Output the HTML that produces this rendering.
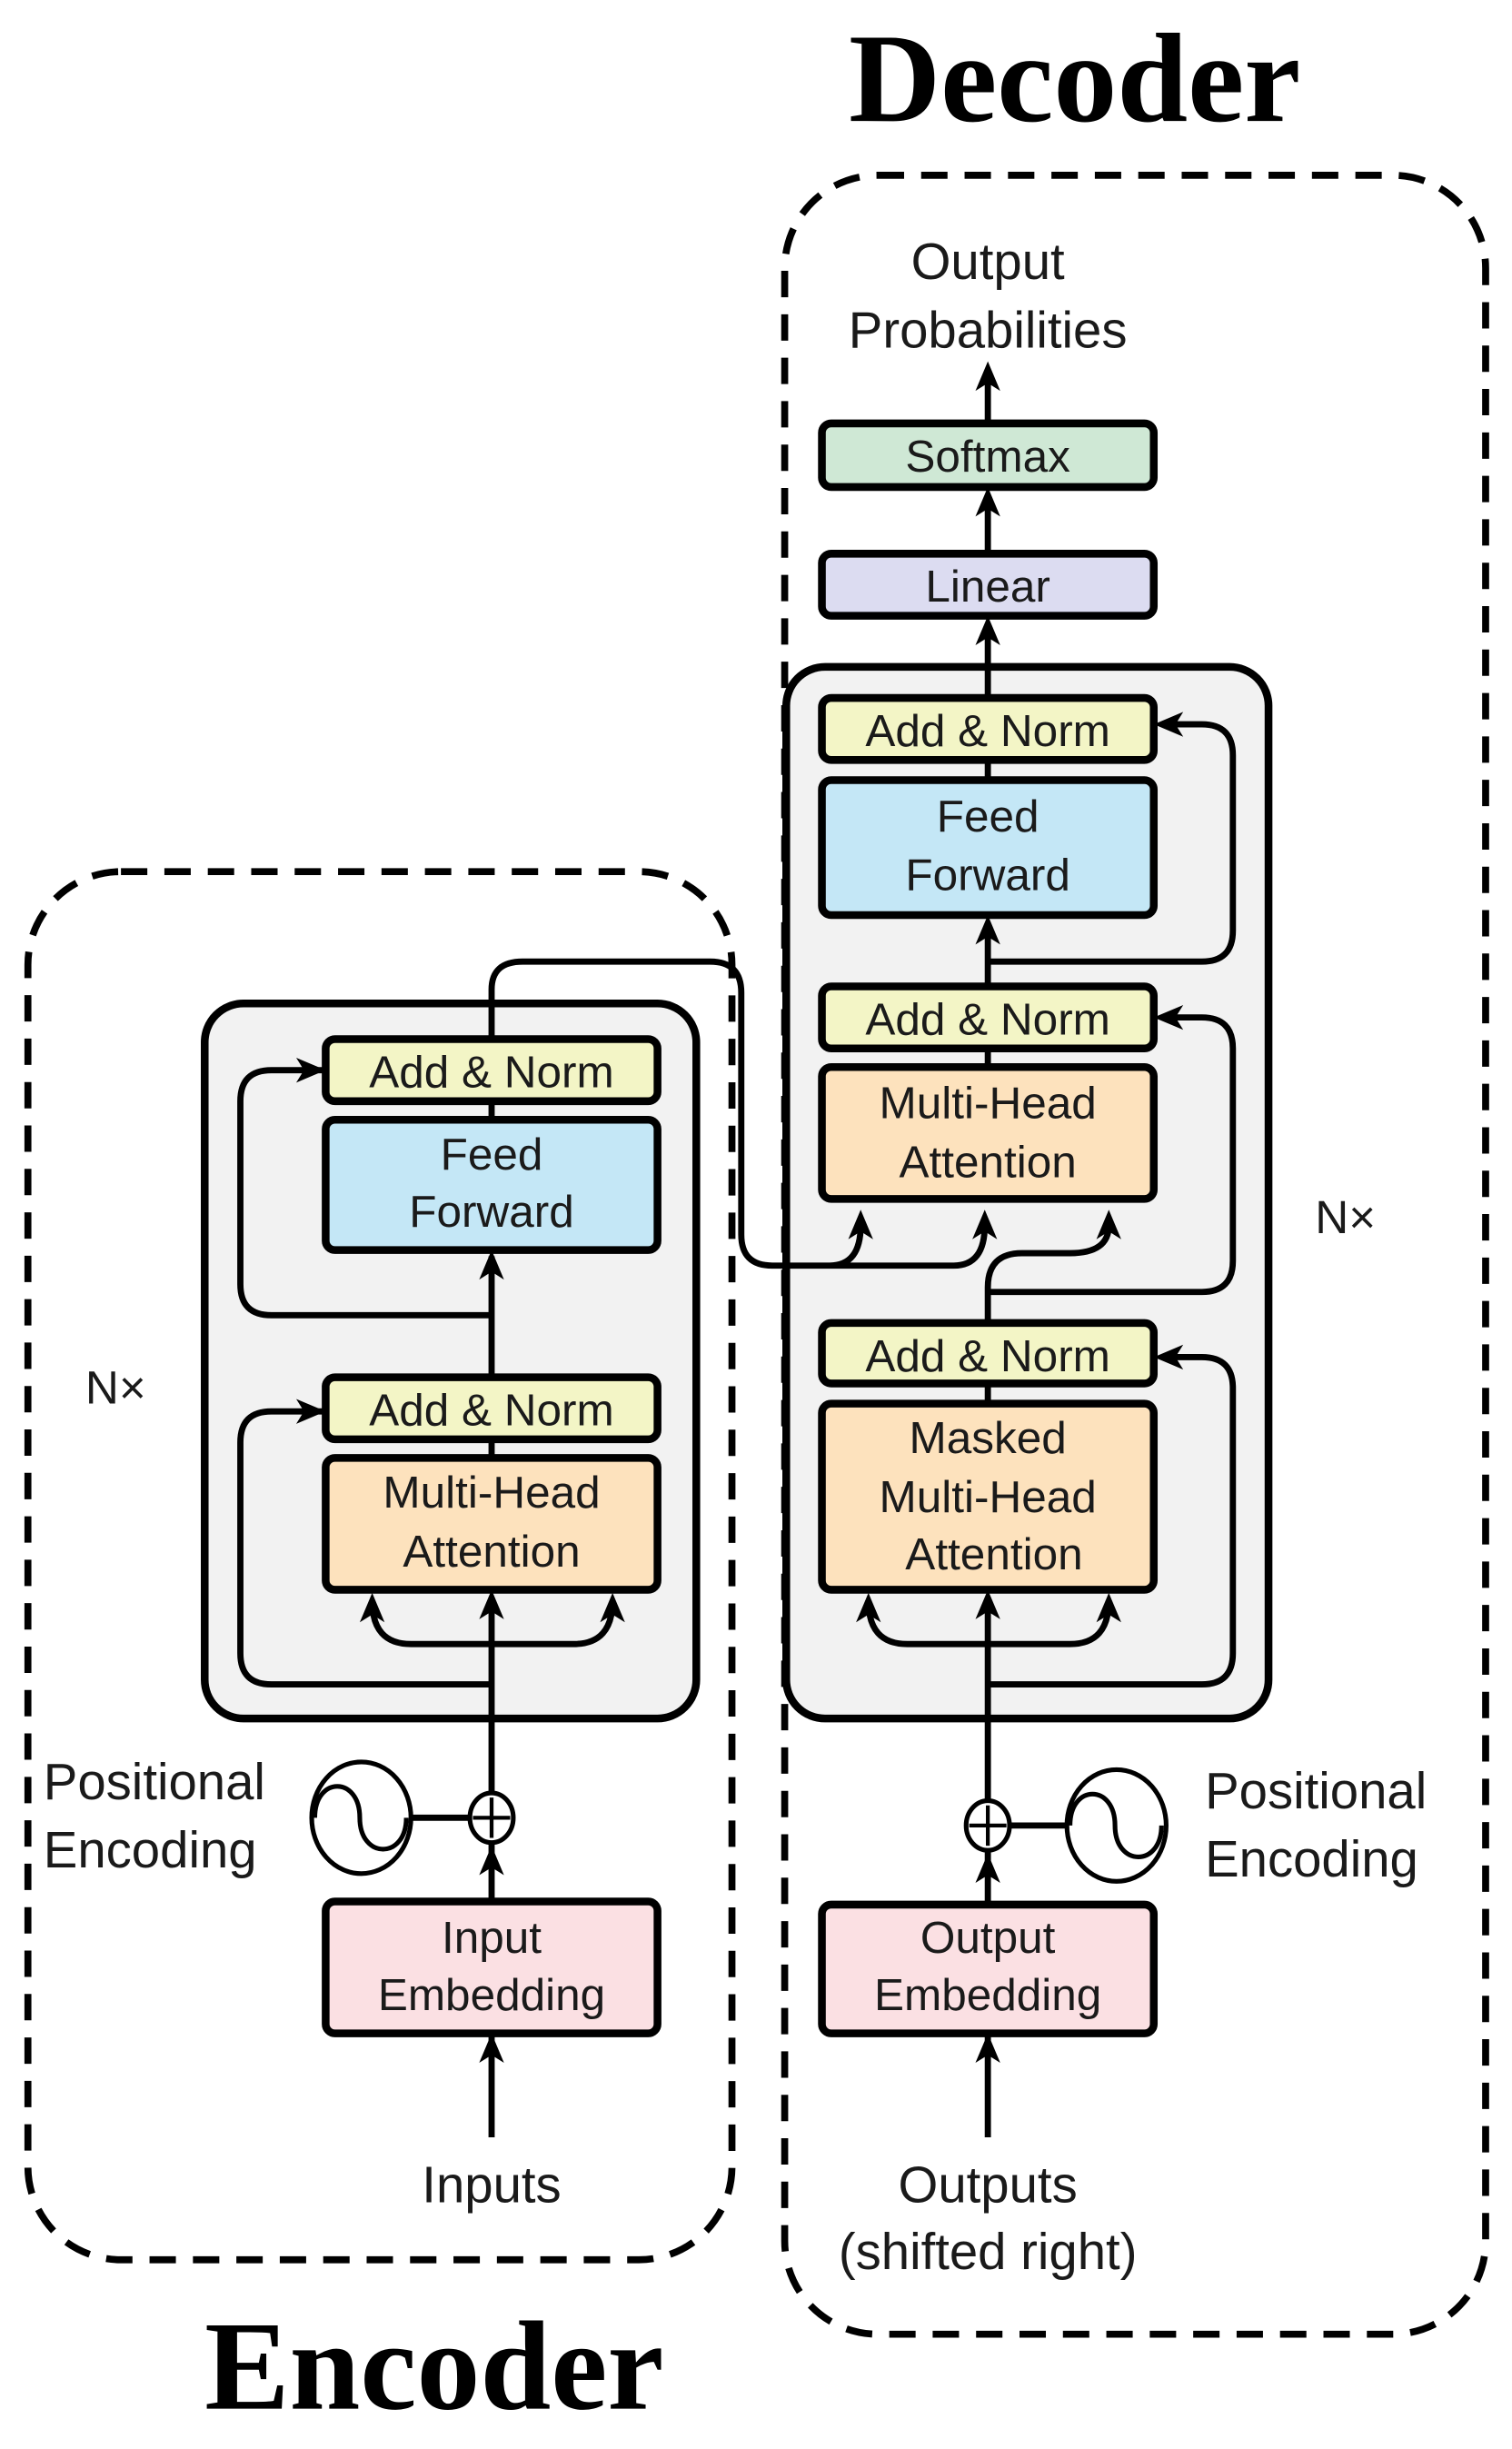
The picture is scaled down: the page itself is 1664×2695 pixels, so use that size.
<!DOCTYPE html>
<html><head><meta charset="utf-8"><style>
html,body{margin:0;padding:0;background:#fff;}
svg{display:block;}
text{font-family:"Liberation Sans",sans-serif;fill:#1a1a1a;}
.big{font-family:"Liberation Serif",serif;font-weight:bold;fill:#000;}
</style></head><body>
<svg width="1664" height="2695" viewBox="0 0 975 1579" preserveAspectRatio="none" xmlns="http://www.w3.org/2000/svg">
<style>
.ln{fill:none;stroke:#000;stroke-width:4;stroke-linejoin:round;}
.bx{stroke:#000;stroke-width:5;}
.ah{fill:#000;}
</style>
<!-- Titles -->
<text class="big" x="693" y="78" font-size="82" text-anchor="middle">Decoder</text>
<text class="big" x="280" y="1553" font-size="82" text-anchor="middle">Encoder</text>
<!-- dashed boxes -->
<rect x="506" y="113" width="452" height="1392" rx="60" fill="none" stroke="#000" stroke-width="4.5" stroke-dasharray="17 11"/>
<rect x="18" y="562" width="454" height="895" rx="60" fill="none" stroke="#000" stroke-width="4.5" stroke-dasharray="17 11"/>
<!-- gray boxes -->
<rect x="132" y="647" width="317" height="461" rx="25" fill="#f2f2f2" class="bx"/>
<rect x="507" y="430" width="311" height="678" rx="25" fill="#f2f2f2" class="bx"/>

<!-- ENCODER connectors -->
<path class="ln" d="M317 1378 V1030"/>
<path class="ln" d="M317 1060 H265 Q240 1060 240 1032 M317 1060 H370 Q395 1060 395 1032"/>
<path class="ln" d="M317 1086 H175 Q155 1086 155 1066 V930 Q155 910 175 910 H208"/>
<path class="ln" d="M317 1025 V888 M317 928 V810"/>
<path class="ln" d="M317 848 H175 Q155 848 155 828 V710 Q155 690 175 690 H208"/>
<path class="ln" d="M317 722 V710 M317 670 V638 Q317 620 337 620 H458 Q478 620 478 640 V796 Q478 816 498 816 H535 Q555 816 555 790 M535 816 H615 Q635 816 635 790"/>
<polygon class="ah" points="317,1025 309,1044 317,1039 325,1044"/>
<polygon class="ah" points="240,1027 232,1046 240,1041 248,1046"/>
<polygon class="ah" points="395,1027 387,1046 395,1041 403,1046"/>
<polygon class="ah" points="317,806 309,825 317,820 325,825"/>
<polygon class="ah" points="210,910 191,902 196,910 191,918"/>
<polygon class="ah" points="210,690 191,682 196,690 191,698"/>
<polygon class="ah" points="317,1190 309,1209 317,1204 325,1209"/>
<polygon class="ah" points="317,1311 309,1330 317,1325 325,1330"/>
<polygon class="ah" points="555,780 547,799 555,794 563,799"/>
<polygon class="ah" points="635,780 627,799 635,794 643,799"/>

<!-- encoder boxes -->
<rect x="210" y="670" width="214" height="40" rx="6" fill="#f3f5c6" class="bx"/>
<text x="317" y="701" font-size="29" text-anchor="middle">Add &amp; Norm</text>
<rect x="210" y="722" width="214" height="84" rx="6" fill="#c4e7f6" class="bx"/>
<text x="317" y="754" font-size="29" text-anchor="middle">Feed</text>
<text x="317" y="791" font-size="29" text-anchor="middle">Forward</text>
<rect x="210" y="888" width="214" height="40" rx="6" fill="#f3f5c6" class="bx"/>
<text x="317" y="919" font-size="29" text-anchor="middle">Add &amp; Norm</text>
<rect x="210" y="940" width="214" height="85" rx="6" fill="#fde2bd" class="bx"/>
<text x="317" y="972" font-size="29" text-anchor="middle">Multi-Head</text>
<text x="317" y="1010" font-size="29" text-anchor="middle">Attention</text>
<rect x="210" y="1226" width="214" height="85" rx="6" fill="#fbe0e3" class="bx"/>
<text x="317" y="1259" font-size="29" text-anchor="middle">Input</text>
<text x="317" y="1296" font-size="29" text-anchor="middle">Embedding</text>
<path class="ln" d="M264 1172 H302"/>
<ellipse cx="317" cy="1172" rx="14" ry="16" fill="#fff" stroke="#000" stroke-width="3"/>
<path d="M305 1172 H329 M317 1159 V1185" stroke="#000" stroke-width="2.5"/>
<ellipse cx="233" cy="1172" rx="32" ry="36" fill="#fff" stroke="#000" stroke-width="3"/>
<path d="M203 1172 C203 1145 232 1145 232 1172 C232 1199 262 1199 262 1172" fill="none" stroke="#000" stroke-width="3"/>
<text x="28" y="1160" font-size="33">Positional</text>
<text x="28" y="1204" font-size="33">Encoding</text>
<text x="317" y="1420" font-size="33" text-anchor="middle">Inputs</text>
<text x="55" y="905" font-size="30">N×</text>

<!-- DECODER connectors -->
<path class="ln" d="M637 1378 V1030"/>
<path class="ln" d="M637 1060 H585 Q560 1060 560 1032 M637 1060 H690 Q715 1060 715 1032"/>
<path class="ln" d="M637 1086 H775 Q795 1086 795 1066 V895 Q795 875 775 875 H750"/>
<path class="ln" d="M637 905 V892 M637 853 V830 Q637 808 659 808 H690 Q715 808 715 790"/>
<path class="ln" d="M637 833 H775 Q795 833 795 813 V676 Q795 656 775 656 H750"/>
<path class="ln" d="M637 688 V676 M637 636 V596"/>
<path class="ln" d="M637 620 H775 Q795 620 795 600 V487 Q795 467 775 467 H750"/>
<path class="ln" d="M637 503 V490 M637 450 V405 M637 357 V322 M637 273 V240"/>
<polygon class="ah" points="637,1025 629,1044 637,1039 645,1044"/>
<polygon class="ah" points="560,1027 552,1046 560,1041 568,1046"/>
<polygon class="ah" points="715,1027 707,1046 715,1041 723,1046"/>
<polygon class="ah" points="715,780 707,799 715,794 723,799"/>
<polygon class="ah" points="637,590 629,609 637,604 645,609"/>
<polygon class="ah" points="744,875 763,867 758,875 763,883"/>
<polygon class="ah" points="744,656 763,648 758,656 763,664"/>
<polygon class="ah" points="744,467 763,459 758,467 763,475"/>
<polygon class="ah" points="637,397 629,416 637,411 645,416"/>
<polygon class="ah" points="637,314 629,333 637,328 645,333"/>
<polygon class="ah" points="637,233 629,252 637,247 645,252"/>
<polygon class="ah" points="637,1195 629,1214 637,1209 645,1214"/>
<polygon class="ah" points="637,1311 629,1330 637,1325 645,1330"/>

<!-- decoder boxes -->
<rect x="530" y="273" width="214" height="41" rx="6" fill="#cfe8d5" class="bx"/>
<text x="637" y="304" font-size="29" text-anchor="middle">Softmax</text>
<rect x="530" y="357" width="214" height="40" rx="6" fill="#dcdcf1" class="bx"/>
<text x="637" y="388" font-size="29" text-anchor="middle">Linear</text>
<rect x="530" y="450" width="214" height="40" rx="6" fill="#f3f5c6" class="bx"/>
<text x="637" y="481" font-size="29" text-anchor="middle">Add &amp; Norm</text>
<rect x="530" y="503" width="214" height="87" rx="6" fill="#c4e7f6" class="bx"/>
<text x="637" y="536" font-size="29" text-anchor="middle">Feed</text>
<text x="637" y="574" font-size="29" text-anchor="middle">Forward</text>
<rect x="530" y="636" width="214" height="40" rx="6" fill="#f3f5c6" class="bx"/>
<text x="637" y="667" font-size="29" text-anchor="middle">Add &amp; Norm</text>
<rect x="530" y="688" width="214" height="85" rx="6" fill="#fde2bd" class="bx"/>
<text x="637" y="721" font-size="29" text-anchor="middle">Multi-Head</text>
<text x="637" y="759" font-size="29" text-anchor="middle">Attention</text>
<rect x="530" y="853" width="214" height="39" rx="6" fill="#f3f5c6" class="bx"/>
<text x="637" y="884" font-size="29" text-anchor="middle">Add &amp; Norm</text>
<rect x="530" y="905" width="214" height="120" rx="6" fill="#fde2bd" class="bx"/>
<text x="637" y="937" font-size="29" text-anchor="middle">Masked</text>
<text x="637" y="975" font-size="29" text-anchor="middle">Multi-Head</text>
<text x="641" y="1012" font-size="29" text-anchor="middle">Attention</text>
<rect x="530" y="1228" width="214" height="83" rx="6" fill="#fbe0e3" class="bx"/>
<text x="637" y="1259" font-size="29" text-anchor="middle">Output</text>
<text x="637" y="1296" font-size="29" text-anchor="middle">Embedding</text>
<path class="ln" d="M652 1177 H690"/>
<ellipse cx="637" cy="1177" rx="14" ry="16" fill="#fff" stroke="#000" stroke-width="3"/>
<path d="M625 1177 H649 M637 1164 V1190" stroke="#000" stroke-width="2.5"/>
<ellipse cx="720" cy="1177" rx="32" ry="36" fill="#fff" stroke="#000" stroke-width="3"/>
<path d="M690 1177 C690 1150 719 1150 719 1177 C719 1204 749 1204 749 1177" fill="none" stroke="#000" stroke-width="3"/>
<text x="777" y="1166" font-size="33">Positional</text>
<text x="777" y="1210" font-size="33">Encoding</text>
<text x="637" y="1420" font-size="33" text-anchor="middle">Outputs</text>
<text x="637" y="1463" font-size="33" text-anchor="middle">(shifted right)</text>
<text x="637" y="180" font-size="33" text-anchor="middle">Output</text>
<text x="637" y="224" font-size="33" text-anchor="middle">Probabilities</text>
<text x="848" y="795" font-size="30">N×</text>
</svg>
</body></html>
